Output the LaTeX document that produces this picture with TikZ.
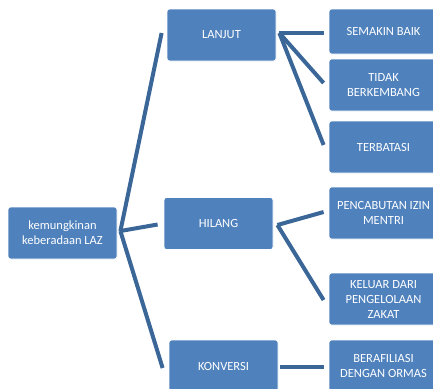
\documentclass[tikz,border=0pt]{standalone}
\usepackage{fontspec}
\setmainfont{Carlito}
\definecolor{boxblue}{HTML}{4F81BD}
\definecolor{lineblue}{HTML}{3B6698}
\begin{document}
\begin{tikzpicture}[x=1pt,y=-1pt,
  box/.style={draw=white,line width=0.8pt,fill=boxblue,rounded corners=2.5pt,
    minimum width=109pt,minimum height=52pt,inner sep=1pt,
    text=white,font=\fontsize{12.5}{15}\selectfont,align=center},
  conn/.style={draw=lineblue,line width=4pt}]
\useasboundingbox (0,0) rectangle (433,388);
\clip (0,0) rectangle (433,388);
\node[box] (root) at (62.5,233) {kemungkinan\\keberadaan LAZ};
\node[box] (lanjut) at (221.5,35) {LANJUT};
\node[box] (hilang) at (218.5,223.5) {HILANG};
\node[box] (konversi) at (223.5,366) {KONVERSI};
\node[box,minimum height=45pt] (baik) at (383.5,31.5) {SEMAKIN BAIK};
\node[box] (tidak) at (383.5,85) {TIDAK\\BERKEMBANG};
\node[box] (terbatas) at (383.5,147) {TERBATASI};
\node[box] (cabut) at (383.5,213) {PENCABUTAN IZIN\\MENTRI};
\node[box] (keluar) at (383.5,299) {KELUAR DARI\\PENGELOLAAN\\ZAKAT};
\node[box] (afiliasi) at (383.5,366) {BERAFILIASI\\DENGAN ORMAS};
\coordinate (r0) at ([xshift=3pt,yshift=2pt]root.east);
\draw[conn] (r0) -- ([xshift=-5pt,yshift=2pt]lanjut.west);
\draw[conn] (r0) -- ([xshift=-6pt,yshift=-1pt]hilang.west);
\draw[conn] (r0) -- ([xshift=-6pt,yshift=-2pt]konversi.west);
\coordinate (l0) at ([xshift=3pt,yshift=2pt]lanjut.east);
\draw[conn] (l0) -- ([xshift=-5pt,yshift=-1.5pt]baik.west);
\draw[conn] (l0) -- ([xshift=-5pt,yshift=2pt]tidak.west);
\draw[conn] (l0) -- ([xshift=-5pt,yshift=2pt]terbatas.west);
\coordinate (h0) at ([xshift=4pt,yshift=-1.5pt]hilang.east);
\draw[conn] (h0) -- ([xshift=-5pt,yshift=1pt]cabut.west);
\draw[conn] (h0) -- ([xshift=-5pt,yshift=-1pt]keluar.west);
\draw[conn] ([xshift=2pt,yshift=-1pt]konversi.east) -- ([xshift=-5pt,yshift=-1pt]afiliasi.west);
\end{tikzpicture}
\end{document}
